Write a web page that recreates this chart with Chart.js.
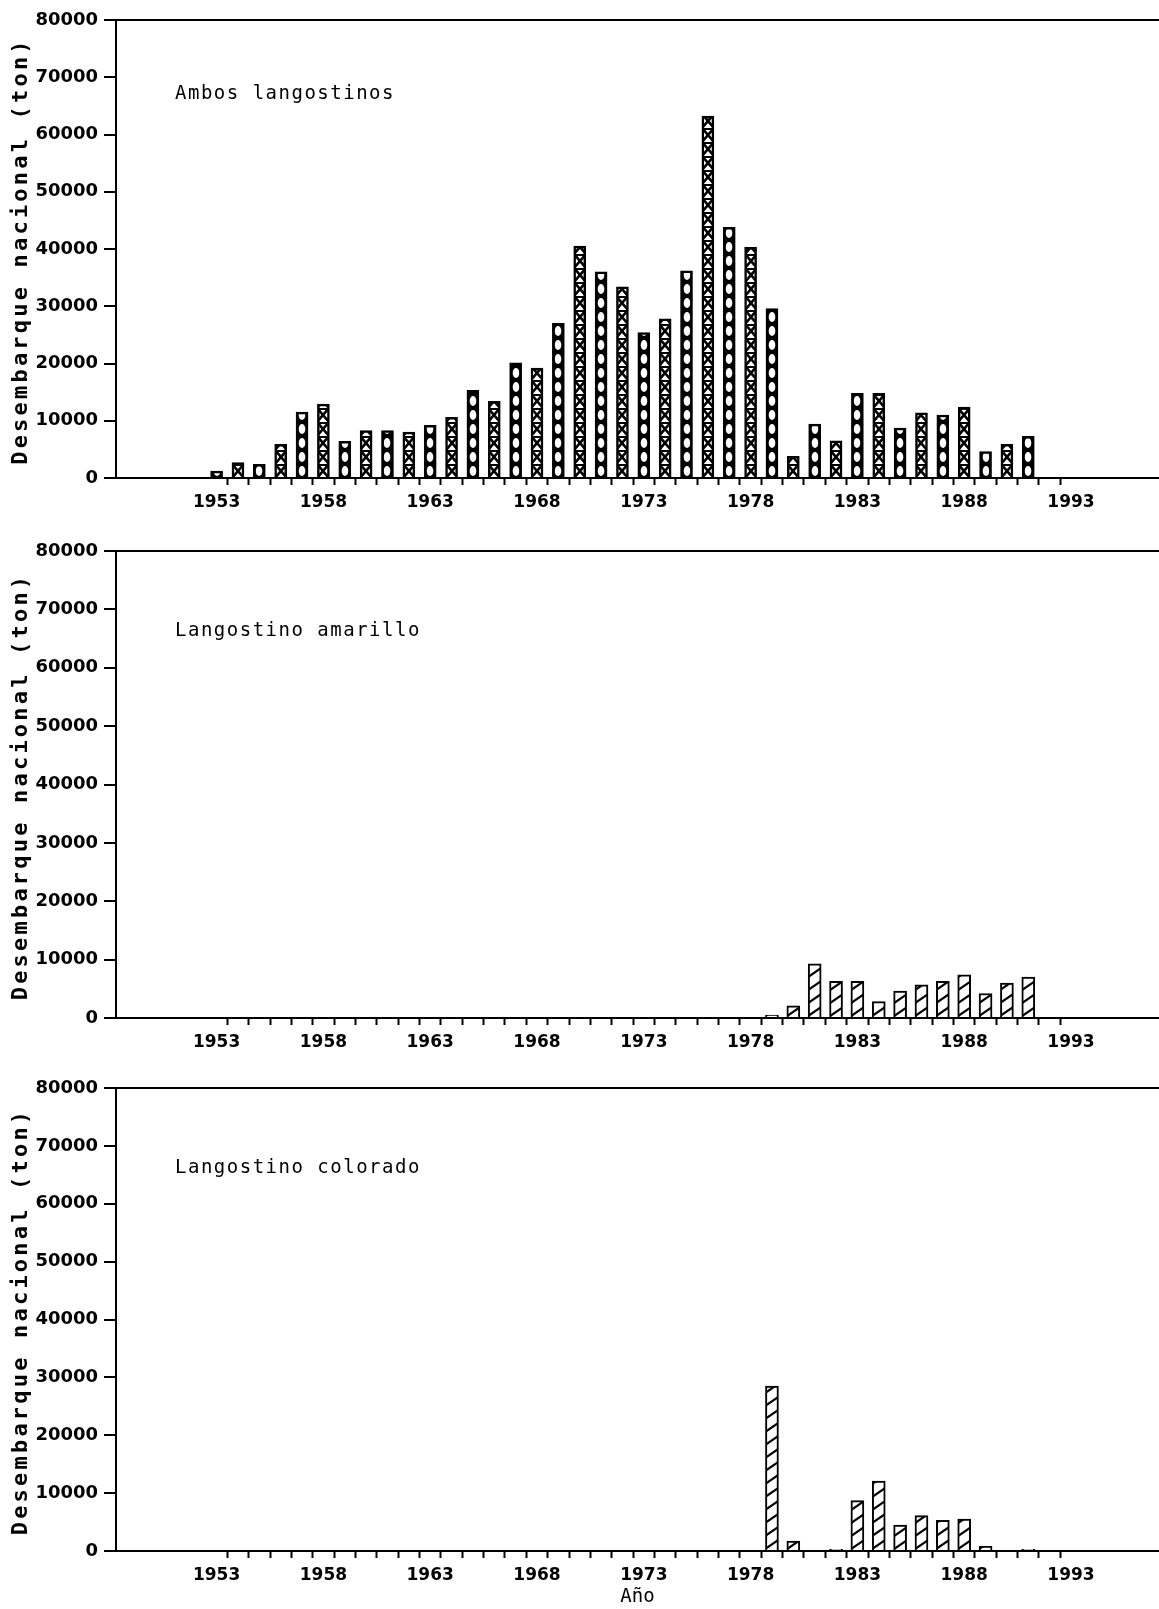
<!DOCTYPE html>
<html>
<head>
<meta charset="utf-8">
<title>Desembarque nacional de langostinos</title>
<script src="https://cdn.jsdelivr.net/npm/chart.js@4.4.1/dist/chart.umd.min.js"></script>
<style>
    html, body { margin: 0; padding: 0; background: #fff; overflow: hidden; }
    canvas { position: absolute; left: 0; }
</style>
</head>
<body>
<canvas id="chartAmbos" width="1159" height="530" style="top:0px"></canvas>
<canvas id="chartAmarillo" width="1159" height="539" style="top:531px"></canvas>
<canvas id="chartColorado" width="1159" height="540" style="top:1068px"></canvas>

<script>
// data (tons per year)
var ambosYears = [1953, 1954, 1955, 1956, 1957, 1958, 1959, 1960, 1961, 1962, 1963, 1964, 1965,
    1966, 1967, 1968, 1969, 1970, 1971, 1972, 1973, 1974, 1975, 1976, 1977, 1978, 1979,
    1980, 1981, 1982, 1983, 1984, 1985, 1986, 1987, 1988, 1989, 1990, 1991];
var ambosValues = [1200, 2700, 2400, 5900, 11500, 12900, 6400, 8300, 8300, 8000, 9200, 10600, 15300,
    13400, 20100, 19200, 27000, 40500, 36000, 33400, 25400, 27800, 36200, 63200, 43800, 40300, 29600,
    3800, 9400, 6500, 14800, 14800, 8700, 11400, 11000, 12400, 4600, 5900, 7300];

var recentYears = [1979, 1980, 1981, 1982, 1983, 1984, 1985, 1986, 1987, 1988, 1989, 1990, 1991];
var amarilloValues = [500, 2100, 9300, 6300, 6300, 2800, 4600, 5700, 6300, 7400, 4200, 6000, 7000];
var coloradoValues = [28500, 1700, null, 300, 8700, 12100, 4500, 6100, 5300, 5500, 800, null, 300];

var yTickValues = [0, 10000, 20000, 30000, 40000, 50000, 60000, 70000, 80000];
var yearLabels = [1953, 1958, 1963, 1968, 1973, 1978, 1983, 1988, 1993];
var yearTickMarks = [];
for (var t = 1953.5; t <= 1992.5; t += 1) yearTickMarks.push(t);

var yTitle = 'Desembarque nacional (ton)';
var xTitle = 'Año';

Chart.defaults.animation = false;
Chart.defaults.color = '#000';

function makeTile(kind, w) {
    var h = kind === 'hatch' ? 13 : 14;
    var tile = document.createElement('canvas');
    tile.width = Math.max(1, Math.round(w));
    tile.height = h;
    var t = tile.getContext('2d');
    w = tile.width;
    if (kind === 'o') {
        t.fillStyle = '#000';
        t.fillRect(0, 0, w, h);
        t.fillStyle = '#fff';
        t.beginPath();
        t.ellipse(w / 2, h / 2, 3.3, 4.9, 0, 0, Math.PI * 2);
        t.fill();
    } else if (kind === 'x') {
        t.fillStyle = '#fff';
        t.fillRect(0, 0, w, h);
        t.fillStyle = '#000';
        t.fillRect(0, 0, w, 2);
        t.strokeStyle = '#000';
        t.lineWidth = 2.6;
        t.beginPath();
        t.moveTo(0, 0); t.lineTo(w, h);
        t.moveTo(w, 0); t.lineTo(0, h);
        t.stroke();
    } else {
        t.fillStyle = '#fff';
        t.fillRect(0, 0, w, h);
        t.strokeStyle = '#000';
        t.lineWidth = 2.2;
        t.beginPath();
        for (var k = -1; k <= 1; k++) {
            t.moveTo(0, h * 0.85 + k * h);
            t.lineTo(w, h * 0.85 - 9 + k * h);
        }
        t.stroke();
    }
    return tile;
}

function barFill(kind, barWidth) {
    return function (ctx) {
        var chart = ctx.chart;
        if (ctx.type !== 'data' || !ctx.raw || !chart.scales.x || !chart.chartArea) return '#000';
        var cx = chart.scales.x.getPixelForValue(ctx.raw.x);
        var base = chart.scales.y.getPixelForValue(0);
        if (!isFinite(cx) || !isFinite(base)) return '#000';
        var k = kind === 'mix' ? (ctx.dataIndex % 2 ? 'x' : 'o') : kind;
        var pattern = chart.ctx.createPattern(makeTile(k, barWidth), 'repeat');
        pattern.setTransform(new DOMMatrix([1, 0, 0, 1, Math.round(cx - barWidth / 2), base]));
        return pattern;
    };
}

var panelText = {
    id: 'panelText',
    afterDraw: function (chart, args, opts) {
        var c = chart.ctx, a = chart.chartArea;
        c.save();
        c.fillStyle = '#000';
        c.textBaseline = 'middle';
        c.font = '19px "DejaVu Sans Mono"';
        c.letterSpacing = '1.5px';
        c.fillText(opts.label, a.left + 59, a.top + opts.offset);

        c.translate(21, (a.top + a.bottom) / 2 + 2);
        c.rotate(-Math.PI / 2);
        c.font = 'bold 22px "DejaVu Sans Mono"';
        c.letterSpacing = '3.2px';
        c.textAlign = 'center';
        c.fillText(yTitle, 0, 0);
        c.restore();
    }
};

function makeChart(id, years, values, kind, barWidth, borderWidth, label, offset, withTitle) {
    var points = years.map(function (y, i) { return { x: y, y: values[i] }; });
    var xTicks = yearTickMarks.concat(yearLabels).sort(function (a, b) { return a - b; });

    return new Chart(document.getElementById(id), {
        type: 'bar',
        data: {
            datasets: [{
                data: points,
                backgroundColor: barFill(kind, barWidth),
                borderColor: '#000',
                borderWidth: borderWidth,
                borderSkipped: 'start',
                barThickness: barWidth
            }]
        },
        plugins: [panelText],
        options: {
            responsive: false,
            events: [],
            layout: { padding: { top: 20, left: 0, right: 0, bottom: withTitle ? 0 : 12 } },
            plugins: {
                legend: { display: false },
                tooltip: { enabled: false },
                panelText: { label: label, offset: offset }
            },
            scales: {
                x: {
                    type: 'linear',
                    min: 1948.29,
                    max: 1997.12,
                    offset: false,
                    afterBuildTicks: function (s) {
                        s.ticks = xTicks.map(function (v) { return { value: v }; });
                    },
                    afterFit: function (s) { s.height = withTitle ? 57 : 40; },
                    grid: {
                        offset: false,
                        drawOnChartArea: false,
                        tickLength: 7,
                        tickWidth: 2,
                        tickColor: function (ctx) {
                            return ctx.tick && ctx.tick.value % 1 !== 0 ? '#000' : 'rgba(0,0,0,0)';
                        }
                    },
                    border: { display: true, color: '#000', width: 2 },
                    ticks: {
                        autoSkip: false,
                        maxRotation: 0,
                        padding: 7,
                        color: '#000',
                        font: { family: 'DejaVu Sans', weight: 'bold', size: 17 },
                        callback: function (v) { return yearLabels.indexOf(v) >= 0 ? String(v) : ''; }
                    },
                    title: {
                        display: withTitle,
                        text: xTitle,
                        color: '#000',
                        padding: { top: 0, bottom: 0 },
                        font: { family: 'DejaVu Sans Mono', size: 19, lineHeight: 1.2 }
                    }
                },
                y: {
                    min: 0,
                    max: 80000,
                    afterBuildTicks: function (s) {
                        s.ticks = yTickValues.map(function (v) { return { value: v }; });
                    },
                    afterFit: function (s) { s.width = 116; },
                    grid: {
                        lineWidth: 2,
                        color: function (ctx) {
                            return ctx.tick && ctx.tick.value === 80000 ? '#000' : 'rgba(0,0,0,0)';
                        },
                        tickLength: 12,
                        tickWidth: 2,
                        tickColor: '#000'
                    },
                    border: { display: true, color: '#000', width: 2 },
                    ticks: {
                        padding: 6,
                        color: '#000',
                        font: { family: 'DejaVu Sans', weight: 'bold', size: 18 },
                        callback: function (v) { return String(v); }
                    }
                }
            }
        }
    });
}

makeChart('chartAmbos', ambosYears, ambosValues, 'mix', 12, 2.5, 'Ambos langostinos', 74, false);
makeChart('chartAmarillo', recentYears, amarilloValues, 'hatch', 13, 2, 'Langostino amarillo', 80, false);
makeChart('chartColorado', recentYears, coloradoValues, 'hatch', 13, 2, 'Langostino colorado', 80, true);
</script>
</body>
</html>
